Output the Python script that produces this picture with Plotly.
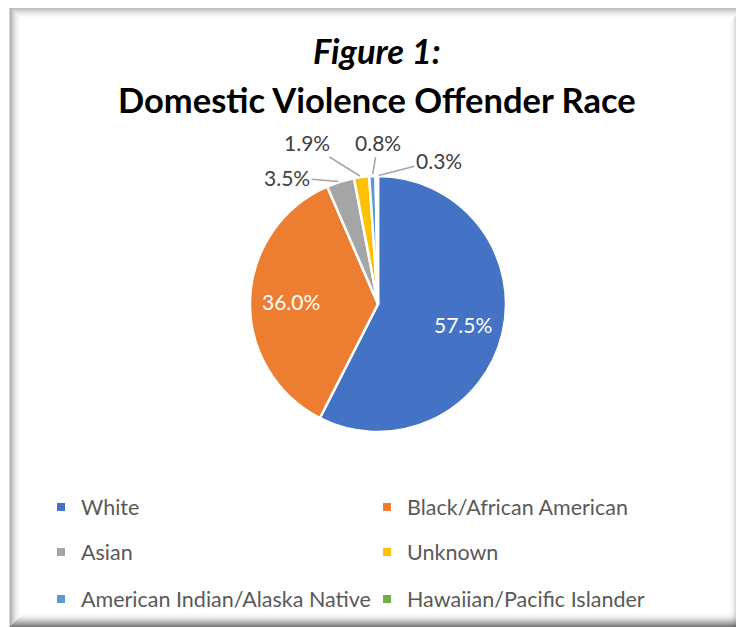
import math
import plotly.graph_objects as go

categories = ["White", "Black/African American", "Asian", "Unknown",
              "American Indian/Alaska Native", "Hawaiian/Pacific Islander"]
values = [57.5, 36.0, 3.5, 1.9, 0.8, 0.3]
colors = ["#4472C4", "#ED7D31", "#A5A5A5", "#FFC000", "#5B9BD5", "#70AD47"]
inside = [True, True, False, False, False, False]

# page offset of the browser body (8px) -> figure sized to fit window
OFF = 8
W, H = 744 - OFF, 627 - OFF


def px(sx):
    return (sx - OFF) / W


def py(sy):
    return (627 - sy) / H


cx, cy, r = 378, 304, 128  # screen pixels

fig = go.Figure()
fig.add_trace(go.Pie(
    labels=categories, values=values, sort=False, direction="clockwise",
    marker=dict(colors=colors, line=dict(color="white", width=2.5)),
    textinfo="none",
    showlegend=False, hoverinfo="label+percent",
    domain=dict(x=[px(cx - r), px(cx + r)], y=[py(cy + r), py(cy - r)]),
))

# data labels: inside ones along the slice bisector, outside ones with leader lines
label_centres = {2: (287, 177), 3: (307, 143), 4: (378, 143), 5: (439, 160)}
annotations = []
total = sum(values)
cum = 0.0
for i, v in enumerate(values):
    mid = (cum + v / 2) / total * 2 * math.pi
    cum += v
    if inside[i]:
        lx = cx + 0.68 * r * math.sin(mid)
        ly = cy - 0.68 * r * math.cos(mid)
        annotations.append(dict(
            text=f"{v:.1f}%", x=px(lx), y=py(ly), xref="paper", yref="paper",
            showarrow=False, xanchor="center", yanchor="middle",
            font=dict(family="Lato", size=21, color="white")))
        continue
    ex = cx + r * math.sin(mid)
    ey = cy - r * math.cos(mid)
    lx, ly = label_centres[i]
    annotations.append(dict(
        text=f"{v:.1f}%", x=px(ex), y=py(ey), xref="paper", yref="paper",
        ax=lx - ex, ay=ly - ey, showarrow=True, arrowhead=0, arrowwidth=1.5,
        arrowcolor="#A6A6A6", standoff=2,
        font=dict(family="Lato", size=21, color="#404040")))

# legend via three single-row legends
rows = [[0, 1], [2, 3], [4, 5]]
legend_y = [507, 552, 599]
for ri, idxs in enumerate(rows):
    lname = "legend" if ri == 0 else f"legend{ri+1}"
    for i in idxs:
        fig.add_trace(go.Scatter(
            x=[None], y=[None], mode="markers", name=categories[i],
            marker=dict(symbol="square", size=8, color=colors[i]),
            legend=lname, showlegend=True))

leg_common = dict(orientation="h", x=33 / W, xanchor="left", yanchor="middle",
                  entrywidth=281, entrywidthmode="pixels",
                  font=dict(family="Lato", size=21.5, color="#595959"),
                  bgcolor="rgba(0,0,0,0)", itemclick=False)
layout_legends = {}
for ri in range(3):
    lname = "legend" if ri == 0 else f"legend{ri+1}"
    layout_legends[lname] = dict(leg_common, y=py(legend_y[ri]))

# frame with soft shadow
shapes = []
n = 12
for i in range(n):
    a = 0.30 * (1 - i / n) ** 2
    shapes.append(dict(type="rect", xref="paper", yref="paper",
                       x0=px(10 + i), x1=px(744 - i),
                       y0=py(627 - i), y1=py(8 + i),
                       line=dict(color=f"rgba(0,0,0,{a:.3f})", width=1.2),
                       fillcolor="rgba(0,0,0,0)", layer="below"))
for i in range(14):
    a = 0.35 * (1 - i / 14) ** 1.5
    shapes.append(dict(type="line", xref="paper", yref="paper",
                       x0=px(743.5 - i), x1=px(743.5 - i),
                       y0=0, y1=py(8 + i),
                       line=dict(color=f"rgba(0,0,0,{a:.3f})", width=1.2), layer="below"))
    shapes.append(dict(type="line", xref="paper", yref="paper",
                       x0=px(10 + i), x1=1,
                       y0=py(626.5 - i), y1=py(626.5 - i),
                       line=dict(color=f"rgba(0,0,0,{a:.3f})", width=1.2), layer="below"))

annotations += [
    dict(text="<b><i>Figure 1:</i></b>", x=px(377), y=py(51), xref="paper", yref="paper",
         showarrow=False, font=dict(family="Lato", size=34.5, color="black"), yanchor="middle"),
    dict(text="<b>Domestic Violence Offender Race</b>", x=px(377), y=py(99),
         xref="paper", yref="paper", showarrow=False,
         font=dict(family="Lato", size=34.5, color="black"), yanchor="middle"),
]

fig.update_layout(
    width=W, height=H, margin=dict(l=0, r=0, t=0, b=0),
    paper_bgcolor="white", plot_bgcolor="white",
    xaxis=dict(visible=False), yaxis=dict(visible=False),
    shapes=shapes, annotations=annotations,
    **layout_legends,
)
fig.write_html("out.html")
